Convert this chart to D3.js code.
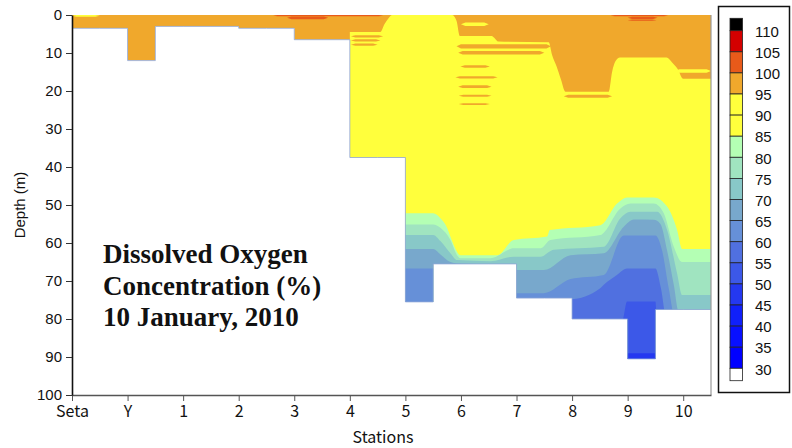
<!DOCTYPE html>
<html>
<head>
<meta charset="utf-8">
<script src="https://cdn.jsdelivr.net/npm/d3@7"></script>
<style>
body { margin: 0; background: #fff; }
svg text { font-family: "Liberation Sans", Arial, sans-serif; fill: #111; }
.narrow text, text.narrow { font-family: "Noto Sans CJK JP", "Liberation Sans", sans-serif; }
</style>
</head>
<body>
<svg id="chart" width="792" height="448"></svg>
<script>
// stations along the section and bottom depth (m) at each
var stations = ["Seta", "Y", "1", "2", "3", "4", "5", "6", "7", "8", "9", "10"];
var bottomDepth = [3.5, 12, 3, 3.5, 6.5, 37.5, 75.5, 65.5, 74.5, 80, 90.5, 77.5];

// legend classes, top to bottom (>110 ... <30)
var legendLabels = [110, 105, 100, 95, 90, 85, 80, 75, 70, 65, 60, 55, 50, 45, 40, 35, 30];
var legendColors = ["#000000", "#d40000", "#e85a1a", "#f0a82c", "#ffff3c", "#ffff3c", "#b4ffb4",
  "#a0e4c0", "#88c8c8", "#78a8cc", "#6690d8", "#5070e0", "#3c58e8", "#2438f0", "#1020fa", "#0810ff",
  "#0000ff", "#ffffff"];

// isolines: [station index, depth] where DO drops below the level
var iso95 = [[5.0, 4.5], [5.55, 4.5], [5.62, 2.5], [5.7, 0.8], [5.76, 0], [6.84, 0], [6.92, 1.5], [6.98, 5.5],
  [7.55, 5.5], [7.68, 7], [8.58, 7.2], [8.64, 10.5], [8.72, 13.5], [8.8, 17], [8.88, 20.2], [9.66, 20.2],
  [9.72, 15], [9.78, 12.2], [9.86, 11.2], [10.7, 11.2], [10.8, 12.5], [10.9, 14.2], [11.0, 16.8], [11.5, 16.8]];
var iso85 = [[5.0, 52.2], [6.5, 52.2], [6.63, 53.5], [6.75, 56], [6.81, 58.3], [6.9, 61.5], [6.99, 63.2], [7.65, 63.2],
  [7.95, 59.2], [8.55, 58.3], [8.6, 56.6], [9.51, 55.3], [9.81, 49.6], [9.99, 48], [10.47, 48], [10.71, 50.4],
  [10.89, 56.6], [10.98, 61.6], [11.5, 61.6]];
var iso80 = [[5.0, 55.1], [6.5, 55.1], [6.63, 56], [6.81, 59.2], [6.93, 63.2], [6.99, 64], [7.53, 64], [7.95, 61.4],
  [8.43, 61.4], [8.61, 59.2], [9.51, 57.9], [9.87, 50.9], [10.05, 49.6], [10.47, 49.6], [10.65, 52.2],
  [10.83, 61], [10.98, 65], [11.5, 65]];
var iso75 = [[5.0, 57.9], [6.5, 57.9], [6.63, 59.5], [6.81, 62.7], [6.93, 64.5], [7.53, 64.8], [7.95, 63.6],
  [8.43, 63.6], [8.67, 61.8], [9.57, 61], [9.87, 53.5], [10.05, 51.8], [10.53, 51.8], [10.71, 56.6],
  [10.89, 68], [10.98, 73.7], [11.5, 73.7]];
var iso70 = [[5.0, 61.6], [6.5, 61.6], [6.63, 63], [6.81, 65], [6.93, 65.4], [7.65, 65.6], [7.98, 67.1],
  [8.49, 67.1], [8.97, 63.2], [9.57, 62.7], [9.93, 55.7], [10.11, 53.8], [10.47, 53.9], [10.59, 55],
  [10.71, 62], [10.83, 71], [10.92, 78], [11.5, 78]];
var iso65 = [[5.0, 66.7], [6.5, 66.7], [6.7, 68], [7.65, 68], [7.98, 73.2], [8.49, 73.2], [8.97, 69.5],
  [9.57, 68.4], [9.93, 58], [10.5, 58], [10.62, 62], [10.74, 72], [10.86, 80], [11.5, 80]];
var iso60 = [[5.0, 80], [8.0, 74.6], [8.97, 74.8], [9.5, 72], [9.57, 71], [9.8, 68.5], [9.99, 66.7],
  [10.5, 66.7], [10.6, 72], [10.7, 80], [11.5, 80]];
var iso55 = [[5.0, 90], [9.5, 85], [9.9, 81], [9.99, 75.4], [10.5, 75.4], [10.53, 81], [11.5, 90]];
var iso50 = [[5.0, 95], [9.97, 95], [10.0, 89], [10.5, 89], [10.52, 95], [11.5, 95]];

var isolines = [iso95, iso85, iso80, iso75, iso70, iso65, iso60, iso55, iso50];
var isoLevels = [95, 85, 80, 75, 70, 65, 60, 55, 50];

// small patches / streaks: [x0, x1, top depth, bottom depth, class]
var patches = [
  [0, 0.5, 0, 0.45, 90],
  [5.02, 5.6, 5.3, 5.9, 95], [5.02, 5.55, 6.4, 7.0, 95], [5.02, 5.5, 7.5, 8.1, 95],
  [7.0, 7.5, 2.0, 2.9, 90],
  [6.92, 8.62, 7.7, 8.8, 95], [6.95, 8.5, 9.5, 10.4, 95],
  [6.99, 7.52, 13.2, 13.9, 95], [6.9, 7.66, 16.1, 16.7, 95], [6.95, 7.55, 18.5, 19.2, 95],
  [6.96, 7.55, 21.0, 21.5, 95], [6.96, 7.52, 23.2, 23.7, 95],
  [8.85, 9.72, 21.0, 21.8, 95],
  [10.85, 11.5, 14.3, 15.2, 90],
  [3.62, 5.6, 0, 0.35, 100], [3.87, 4.61, 0.4, 1.1, 100],
  [9.69, 10.73, 0, 0.35, 100], [10.0, 10.54, 0.45, 1.05, 100], [10.0, 10.52, 1.2, 1.5, 100]
];

function classColor(v) {
  if (v >= 110) return legendColors[0];
  if (v < 30) return legendColors[17];
  var i = legendLabels.indexOf(Math.floor(v / 5) * 5);
  return legendColors[i];
}

var svg = d3.select("#chart");
var x = d3.scaleLinear().domain([0, 11.5]).range([72, 711]);
var y = d3.scaleLinear().domain([0, 100]).range([15, 395]);

// water column outline (step bottom)
var bottomPts = [[0, 0]];
bottomDepth.forEach(function (d, s) {
  var next = s < bottomDepth.length - 1 ? Math.min(d, bottomDepth[s + 1]) : d;
  bottomPts.push([s, d], [s + 0.5, d]);
  if (s < bottomDepth.length - 1) bottomPts.push([s + 0.5, next], [s + 1, next]);
});
bottomPts.push([11.5, 0]);

var line = d3.line().x(function (d) { return x(d[0]); }).y(function (d) { return y(d[1]); });

svg.append("clipPath").attr("id", "water").append("path").attr("d", line(bottomPts) + "Z");

var g = svg.append("g").attr("clip-path", "url(#water)");
g.append("path").attr("d", line(bottomPts) + "Z").attr("fill", classColor(95));

var area = d3.area()
  .x(function (d) { return x(d[0]); })
  .y0(function (d) { return y(d[1]); })
  .y1(y(100))
  .curve(d3.curveMonotoneX);

isolines.forEach(function (iso, i) {
  g.append("path").attr("d", area(iso)).attr("fill", classColor(isoLevels[i] - 5));
});

g.selectAll(".patch").data(patches).enter().append("path")
  .attr("class", "patch")
  .attr("d", function (p) {
    var t = Math.min(0.08, (p[1] - p[0]) / 4), m = (p[2] + p[3]) / 2;
    return line([[p[0], m], [p[0] + t, p[2]], [p[1] - t, p[2]], [p[1], m], [p[1] - t, p[3]], [p[0] + t, p[3]]]) + "Z";
  })
  .attr("fill", function (p) { return classColor(p[4]); });

svg.append("path").attr("d", line(bottomPts.slice(1, -1)))
  .attr("fill", "none").attr("stroke", "#8ea6d8").attr("stroke-width", 0.8);

// right frame
svg.append("line").attr("x1", 711).attr("x2", 711).attr("y1", 15).attr("y2", 395)
  .attr("stroke", "#999").attr("stroke-width", 1.2);

// axes
var xAxis = d3.axisBottom(x).tickValues(d3.range(stations.length))
  .tickFormat(function (i) { return stations[i]; }).tickSize(6).tickSizeOuter(0).tickPadding(5);
var gx = svg.append("g").attr("class", "narrow").attr("transform", "translate(0,395)").call(xAxis);
gx.select(".domain").attr("stroke", "#555").attr("stroke-width", 1.6);
gx.selectAll(".tick line").attr("stroke", "#555");
gx.selectAll("text").attr("font-size", 16).attr("fill", "#111");

var yAxis = d3.axisLeft(y).tickValues(d3.range(0, 101, 10)).tickSize(6).tickSizeOuter(0).tickPadding(4);
var gy = svg.append("g").attr("transform", "translate(72,0)").call(yAxis);
gy.select(".domain").attr("stroke", "#111").attr("stroke-width", 1.6);
gy.selectAll(".tick line").attr("stroke", "#333");
gy.selectAll("text").attr("font-size", 15).attr("fill", "#111");

svg.append("text").attr("class", "narrow").attr("x", 383).attr("y", 443).attr("text-anchor", "middle")
  .attr("font-size", 16).text("Stations");
svg.append("text").attr("transform", "translate(25,205) rotate(-90)").attr("text-anchor", "middle")
  .attr("font-size", 15).text("Depth (m)");

// title block
var titleLines = ["Dissolved Oxygen", "Concentration (%)", "10 January, 2010"];
svg.selectAll(".title").data(titleLines).enter().append("text")
  .attr("class", "title")
  .attr("x", 103).attr("y", function (d, i) { return 263 + i * 31.5; })
  .attr("font-weight", "bold").attr("font-size", 27)
  .style("font-family", "\"Liberation Serif\", \"Times New Roman\", serif")
  .attr("fill", "#111")
  .text(function (d) { return d; });

// legend
var lg = svg.append("g");
lg.append("rect").attr("x", 718.5).attr("y", 6.5).attr("width", 71).attr("height", 386)
  .attr("fill", "#fff").attr("stroke", "#111").attr("stroke-width", 1.5);
var swTop = 30.7, swH = 21.1, capH = 12.4;
lg.selectAll(".sw").data(legendColors).enter().append("rect")
  .attr("x", 730).attr("width", 12.5)
  .attr("y", function (d, i) { return i === 0 ? swTop - capH : swTop + (i - 1) * swH; })
  .attr("height", function (d, i) { return i === 0 || i === legendColors.length - 1 ? capH : swH; })
  .attr("fill", function (d) { return d; })
  .attr("stroke", "#222").attr("stroke-width", 0.8);
lg.selectAll(".lab").data(legendLabels).enter().append("text")
  .attr("x", 755).attr("y", function (d, i) { return swTop + i * swH + 1; })
  .attr("dy", "0.35em").attr("font-size", 15)
  .text(function (d) { return d; });
</script>
</body>
</html>
